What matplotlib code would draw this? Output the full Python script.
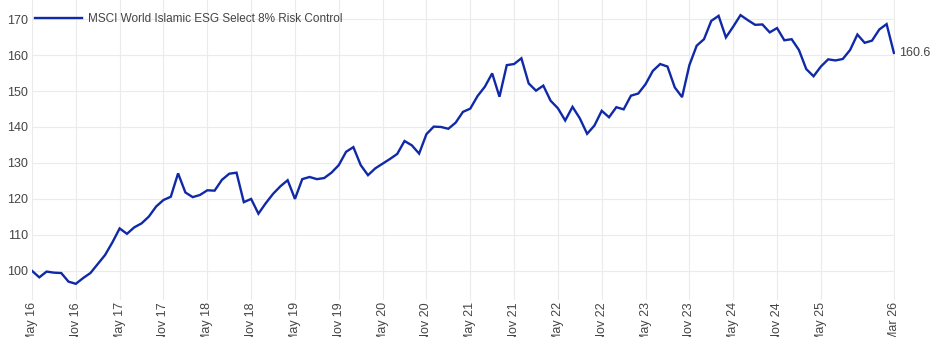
import numpy as np
import matplotlib
matplotlib.use('Agg')
from matplotlib import pyplot as plt

plt.rcParams['font.family'] = ['Liberation Sans', 'DejaVu Sans']

series_name = 'MSCI World Islamic ESG Select 8% Risk Control'

# monthly index levels, May 2016 .. Mar 2026
index_values = [
    100.0, 98.2, 99.8, 99.5, 99.4, 97.0, 96.4, 98.0, 99.4, 101.9, 104.4, 107.9,
    111.8, 110.3, 112.1, 113.2, 115.1, 117.9, 119.7, 120.6, 127.1, 121.8, 120.5, 121.1,
    122.4, 122.3, 125.3, 127.0, 127.3, 119.1, 120.0, 115.9, 118.8, 121.4, 123.5, 125.2,
    120.0, 125.5, 126.1, 125.5, 125.8, 127.3, 129.4, 133.1, 134.4, 129.4, 126.6, 128.5,
    129.8, 131.1, 132.5, 136.1, 134.9, 132.6, 138.0, 140.1, 140.0, 139.5, 141.2, 144.2,
    145.1, 148.6, 151.2, 154.9, 148.4, 157.2, 157.5, 159.1, 152.1, 150.1, 151.5, 147.3,
    145.2, 141.8, 145.6, 142.4, 138.1, 140.4, 144.5, 142.7, 145.5, 144.9, 148.7, 149.3,
    151.9, 155.6, 157.5, 156.8, 151.0, 148.3, 157.2, 162.6, 164.4, 169.5, 170.9, 164.9,
    167.9, 171.1, 169.7, 168.4, 168.5, 166.3, 167.5, 164.1, 164.4, 161.4, 156.1, 154.1,
    156.8, 158.8, 158.5, 158.9, 161.4, 165.7, 163.4, 164.0, 167.1, 168.6, 160.6,
]

tick_months = [0, 6, 12, 18, 24, 30, 36, 42, 48, 54, 60, 66, 72, 78, 84, 90, 96, 102, 108, 118]
tick_labels = ['May 16', 'Nov 16', 'May 17', 'Nov 17', 'May 18', 'Nov 18', 'May 19',
               'Nov 19', 'May 20', 'Nov 20', 'May 21', 'Nov 21', 'May 22', 'Nov 22',
               'May 23', 'Nov 23', 'May 24', 'Nov 24', 'May 25', 'Mar 26']
y_ticks = [100, 110, 120, 130, 140, 150, 160, 170]

line_color = '#1029a6'
text_color = '#444444'

x = np.arange(len(index_values))

fig = plt.figure(figsize=(9.3, 3.37), dpi=100)
ax = fig.add_axes([32 / 930, 37 / 337, (895 - 32) / 930, 300 / 337])

ax.plot(x, index_values, color=line_color, linewidth=1.7, label=series_name,
        solid_joinstyle='miter')

ax.set_xlim(0, len(index_values) - 0.85)
ax.set_ylim(91.9, 175.3)

ax.set_xticks(tick_months)
ax.set_xticklabels(tick_labels, rotation=90, ha='center', va='top')
ax.set_yticks(y_ticks)

ax.grid(True, color='#ebebeb', linewidth=0.8)
ax.set_axisbelow(True)
for s in ax.spines.values():
    s.set_visible(False)
ax.tick_params(axis='both', length=0, labelsize=9, labelcolor=text_color)
ax.tick_params(axis='y', pad=3)
ax.tick_params(axis='x', pad=1.5)

# value of the last month next to the line end
ax.annotate(f'{index_values[-1]:.1f}', xy=(x[-1], index_values[-1]),
            xytext=(3.5, 0), textcoords='offset points', va='center', ha='left',
            fontsize=9, color=text_color, annotation_clip=False)

leg = ax.legend(loc='upper left', bbox_to_anchor=(3 / 863, 1 - 13 / 300),
                frameon=False, fontsize=8.5, handlelength=4.0, handletextpad=0.5,
                borderaxespad=0, borderpad=0)
for t in leg.get_texts():
    t.set_color(text_color)

fig.savefig('out.png', dpi=100)
